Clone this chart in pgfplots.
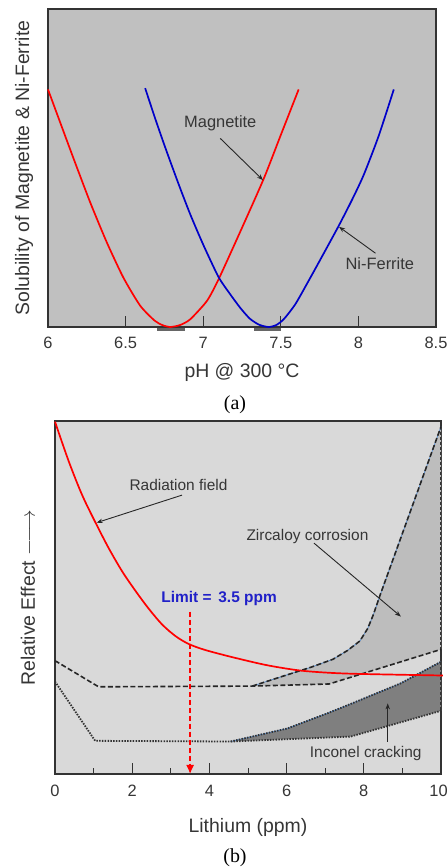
\documentclass[border=0pt]{standalone}
\usepackage{pgfplots}
\pgfplotsset{compat=1.18}
\usepackage{fontspec}
\setmainfont{Liberation Sans}
\newfontfamily\seriffont{Liberation Serif}
\usetikzlibrary{arrows.meta}
\definecolor{bgA}{HTML}{C0C0C0}
\definecolor{bgB}{HTML}{D9D9D9}
\definecolor{fillZ}{HTML}{BDBDBD}
\definecolor{fillI}{HTML}{7F7F7F}
\definecolor{txt}{HTML}{363636}
\definecolor{curveblue}{HTML}{0000C8}
\definecolor{tint}{HTML}{5B8CC8}
\definecolor{limitblue}{HTML}{2020C8}
\pgfplotsset{mystyle/.style={
  scale only axis, anchor=south west, ytick=\empty, clip=false,
  tick align=inside, xtick pos=bottom,
  axis line style={line width=1.6bp, color=black!80},
  tick style={line width=1bp, color=black!80},
  xticklabel style={font=\fontsize{16.5}{16.5}\selectfont, text=txt},
}}
\tikzset{
  lab/.style={font=\fontsize{19.5}{19.5}\selectfont, text=txt},
  ann/.style={font=\fontsize{15.5}{15.5}\selectfont, text=txt},
  annarrow/.style={-{Stealth[length=6bp,width=4.5bp]}, line width=0.9bp, black!85},
  dsh/.style={dash pattern=on 5bp off 2.5bp, line width=1.6bp, black!85},
  dtt/.style={dash pattern=on 1.5bp off 1.3bp, line width=1.8bp, black!80},
}
\begin{document}
\begin{tikzpicture}
% ---------------- (a) ----------------
\begin{axis}[mystyle,
  at={(48bp,540bp)}, width=388bp, height=318bp,
  xmin=6, xmax=8.5, ymin=0, ymax=1,
  axis background/.style={fill=bgA},
  xtick={6,6.5,7,7.5,8,8.5}, xticklabels={6,6.5,7,7.5,8,8.5},
  xticklabel style={yshift=-7bp},
  major tick length=11bp,
]
\addplot[line width=3.5bp, color=black!60, forget plot] coordinates {(6.705,-0.008) (6.884,-0.008)};
\addplot[line width=3.5bp, color=black!60, forget plot] coordinates {(7.329,-0.008) (7.501,-0.008)};
\addplot[red, line width=1.7bp, smooth, tension=0.4] coordinates {
 (6.000,0.747) (6.087,0.632) (6.163,0.532) (6.271,0.393) (6.379,0.266)
 (6.486,0.155) (6.594,0.067) (6.687,0.020) (6.737,0.006) (6.787,0.0)
 (6.850,0.006) (6.916,0.024) (7.024,0.082) (7.099,0.150) (7.239,0.300)
 (7.389,0.465) (7.497,0.600) (7.615,0.747)};
\addplot[curveblue, line width=1.7bp, smooth, tension=0.4] coordinates {
 (6.626,0.751) (6.691,0.655) (6.755,0.565) (6.841,0.450) (6.916,0.355)
 (7.001,0.258) (7.099,0.157) (7.171,0.105) (7.239,0.060) (7.301,0.026)
 (7.361,0.007) (7.421,0.0) (7.470,0.006) (7.520,0.025) (7.594,0.072)
 (7.679,0.145) (7.766,0.222) (7.873,0.318) (7.959,0.400) (8.034,0.478)
 (8.130,0.600) (8.228,0.747)};
\node[ann, font=\fontsize{16.5}{16.5}\selectfont] at (axis cs:7.110,0.641) {Magnetite};
\draw[annarrow] (axis cs:7.110,0.593) -- (axis cs:7.385,0.462);
\node[ann, font=\fontsize{16.5}{16.5}\selectfont] at (axis cs:8.138,0.198) {Ni-Ferrite};
\draw[annarrow] (axis cs:8.110,0.232) -- (axis cs:7.875,0.315);
\node[lab] at ([yshift=-45bp]axis description cs:0.5,0) {pH @ 300 °C};
\node[lab, rotate=90] at ([xshift=-24bp]axis description cs:0,0.5) {Solubility of Magnetite \& Ni-Ferrite};
\end{axis}
% ---------------- (b) ----------------
\begin{axis}[mystyle,
  at={(55bp,93bp)}, width=386bp, height=353bp,
  xmin=0, xmax=10, ymin=0, ymax=1,
  axis background/.style={fill=bgB},
  xtick={0,2,4,6,8,10}, xticklabels={0,2,4,6,8,10\kern5bp},
  xticklabel style={yshift=-8bp},
  minor xtick={1,3,5,7,9},
  major tick length=11bp, minor tick length=6bp,
]
% fills
\addplot[fill=fillZ, draw=none, forget plot] coordinates {
 (5.11,0.249) (5.93,0.278) (6.62,0.302) (7.20,0.325) (7.58,0.350) (7.90,0.377)
 (8.10,0.412) (8.25,0.452) (8.40,0.500) (10,0.984) (10,0.353) (7.10,0.255) (5.11,0.249)};
\addplot[fill=fillI, draw=none, forget plot] coordinates {
 (4.55,0.092) (6.02,0.129) (7.06,0.172) (7.92,0.210) (8.96,0.257) (10,0.318)
 (10,0.179) (7.66,0.106) (4.55,0.092)};
\addplot[black!80, dash pattern=on 3bp off 2bp, line width=1.2bp, forget plot] coordinates {(9.985,0.984) (9.985,0.0)};
% zircaloy lines
\addplot[dsh] coordinates {(0,0.321) (1.13,0.247) (5.11,0.249) (7.10,0.255) (10,0.353)};
\addplot[tint, line width=0.8bp] coordinates {
 (5.11,0.249) (5.93,0.278) (6.62,0.302) (7.20,0.325) (7.58,0.350) (7.90,0.377)
 (8.10,0.412) (8.25,0.452) (8.40,0.500) (10,0.984)};
\addplot[dsh] coordinates {
 (5.11,0.249) (5.93,0.278) (6.62,0.302) (7.20,0.325) (7.58,0.350) (7.90,0.377)
 (8.10,0.412) (8.25,0.452) (8.40,0.500) (10,0.984)};
% inconel lines
\addplot[dtt] coordinates {(0,0.262) (1.04,0.094) (4.55,0.092) (7.66,0.106) (10,0.179)};
\addplot[tint, line width=0.8bp] coordinates {
 (4.55,0.092) (6.02,0.129) (7.06,0.172) (7.92,0.210) (8.96,0.257) (10,0.318)};
\addplot[dtt] coordinates {
 (4.55,0.092) (6.02,0.129) (7.06,0.172) (7.92,0.210) (8.96,0.257) (10,0.318)};
% radiation field
\addplot[red, line width=1.7bp, smooth, tension=0.5] coordinates {
 (0,0.998) (0.355,0.886) (0.70,0.791) (1.05,0.712) (1.39,0.640) (1.74,0.574)
 (2.09,0.518) (2.43,0.468) (2.78,0.423) (3.13,0.390) (3.47,0.368) (3.90,0.351)
 (4.63,0.330) (5.50,0.308) (6.36,0.293) (7.23,0.286) (8.10,0.283) (10.05,0.279)};
% limit
\addplot[red, dash pattern=on 5bp off 3bp, line width=1.3bp, -{Latex[length=9bp,width=8bp]}] coordinates {(3.5,0.46) (3.5,0.0)};
\node[font=\bfseries\fontsize{15.5}{15.5}\selectfont, text=limitblue] at (axis cs:4.25,0.498) {Limit =\, 3.5 ppm};
% annotations
\node[ann] at (axis cs:3.2,0.818) {Radiation field};
\draw[annarrow] (axis cs:3.29,0.79) -- (axis cs:1.08,0.712);
\node[ann] at (axis cs:6.54,0.674) {Zircaloy corrosion};
\draw[annarrow] (axis cs:6.71,0.654) -- (axis cs:8.96,0.446);
\node[ann] at (axis cs:8.05,0.059) {Inconel cracking};
\draw[annarrow] (axis cs:8.62,0.092) -- (axis cs:8.62,0.200);
\node[lab] at ([yshift=-53bp]axis description cs:0.5,0) {Lithium (ppm)};
\node[lab, rotate=90] at ([xshift=-27bp]axis description cs:0,0.5) {Relative Effect $\relbar\joinrel\longrightarrow$};
\end{axis}
\pgfresetboundingbox
\useasboundingbox (0,0) rectangle (448bp,867bp);
\node[font=\seriffont\fontsize{20}{20}\selectfont] at (235bp,462bp) {(a)};
\node[font=\seriffont\fontsize{20}{20}\selectfont] at (235bp,9bp) {(b)};
\end{tikzpicture}
\end{document}
